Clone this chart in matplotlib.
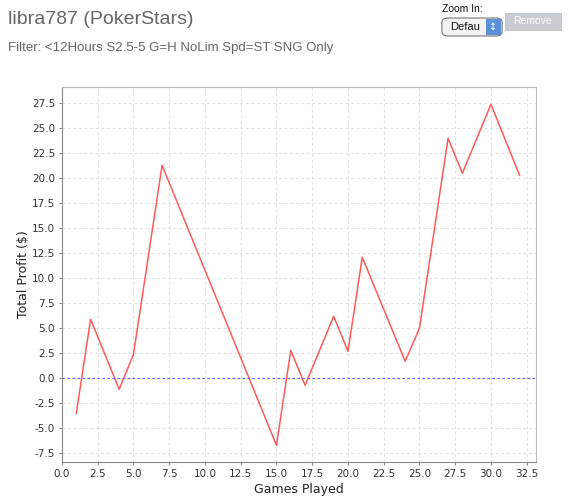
import matplotlib
matplotlib.use('Agg')
import matplotlib.pyplot as plt
from matplotlib.patches import FancyBboxPatch, Rectangle

# profit curve vertices (game number, cumulative profit)
games = [1, 2, 4, 5, 7, 15, 16, 17, 19, 20, 21, 24, 25, 27, 28, 30, 32]
profit = [-3.5, 5.9, -1.1, 2.4, 21.3, -6.7, 2.8, -0.7, 6.2, 2.7, 12.1,
          1.7, 5.0, 24.0, 20.5, 27.4, 20.3]

xticks = [0.0, 2.5, 5.0, 7.5, 10.0, 12.5, 15.0, 17.5, 20.0, 22.5, 25.0, 27.5, 30.0, 32.5]
yticks = [-7.5, -5.0, -2.5, 0.0, 2.5, 5.0, 7.5, 10.0, 12.5, 15.0, 17.5, 20.0, 22.5, 25.0, 27.5]

title = 'libra787 (PokerStars)'
subtitle = 'Filter: <12Hours S2.5-5 G=H NoLim Spd=ST SNG Only'

W, H = 572, 499
fig = plt.figure(figsize=(W / 100, H / 100), dpi=100)
fig.patch.set_facecolor('white')

ax = fig.add_axes([62 / W, 1 - 462.3 / H, (536 - 62) / W, (462.3 - 86.7) / H])
ax.plot(games, profit, color='#ff5a5a', linewidth=1.1)
ax.axhline(0, color='#6666ff', linewidth=0.9, linestyle=(0, (2, 2)))

ax.set_xlim(0, 33.15)
ax.set_ylim(-8.4, 29.16)
ax.set_xticks(xticks)
ax.set_yticks(yticks)
ax.set_xticklabels(['%.1f' % v for v in xticks])
ax.set_yticklabels(['%.1f' % v for v in yticks])
ax.tick_params(labelsize=7.5, colors='#333333', length=2, width=0.8,
               color='#888888', pad=3)
ax.grid(True, color='#e0e0e0', linestyle=(0, (2.5, 2.5)), linewidth=0.8)
ax.set_axisbelow(True)
for side in ['top', 'right']:
    ax.spines[side].set_color('#bbbbbb')
for side in ['left', 'bottom']:
    ax.spines[side].set_color('#888888')

ax.set_xlabel('Games Played', fontsize=9, color='#222222', labelpad=3)
ax.set_ylabel('Total Profit ($)', fontsize=9, color='#222222', labelpad=1)

# header
fig.text(8 / W, 1 - 20 / H, title, fontsize=14, color='#666666',
         family='Liberation Sans', va='center', ha='left')
fig.text(8 / W, 1 - 48 / H, subtitle, fontsize=9.5, color='#666666',
         family='Liberation Sans', va='center', ha='left')

# zoom widget
fig.text(442 / W, 1 - 9 / H, 'Zoom In:', fontsize=7.5, color='#111111',
         family='Liberation Sans', va='center', ha='left')
fig.patches.append(FancyBboxPatch((443 / W, 1 - 35 / H), 58 / W, 16 / H,
                                  boxstyle='round,pad=0.002,rounding_size=0.01',
                                  transform=fig.transFigure, facecolor='#f2f2f2',
                                  edgecolor='#777777', linewidth=0.8))
fig.patches.append(Rectangle((486 / W, 1 - 34.5 / H), 14.5 / W, 15 / H,
                             transform=fig.transFigure, facecolor='#5b8fd8',
                             edgecolor='none'))
fig.text(450 / W, 1 - 27 / H, 'Defau', fontsize=8, color='#111111',
         family='Liberation Sans', va='center', ha='left')
fig.text(493 / W, 1 - 27 / H, '\u2195', fontsize=7, color='white',
         va='center', ha='center')
fig.patches.append(Rectangle((505 / W, 1 - 30 / H), 56 / W, 17 / H,
                             transform=fig.transFigure, facecolor='#c9ccd2',
                             edgecolor='#b5b8bd', linewidth=0.5))
fig.text(533 / W, 1 - 21.5 / H, 'Remove', fontsize=7.5, color='white',
         family='Liberation Sans', va='center', ha='center')

fig.savefig('out.png', dpi=100)
